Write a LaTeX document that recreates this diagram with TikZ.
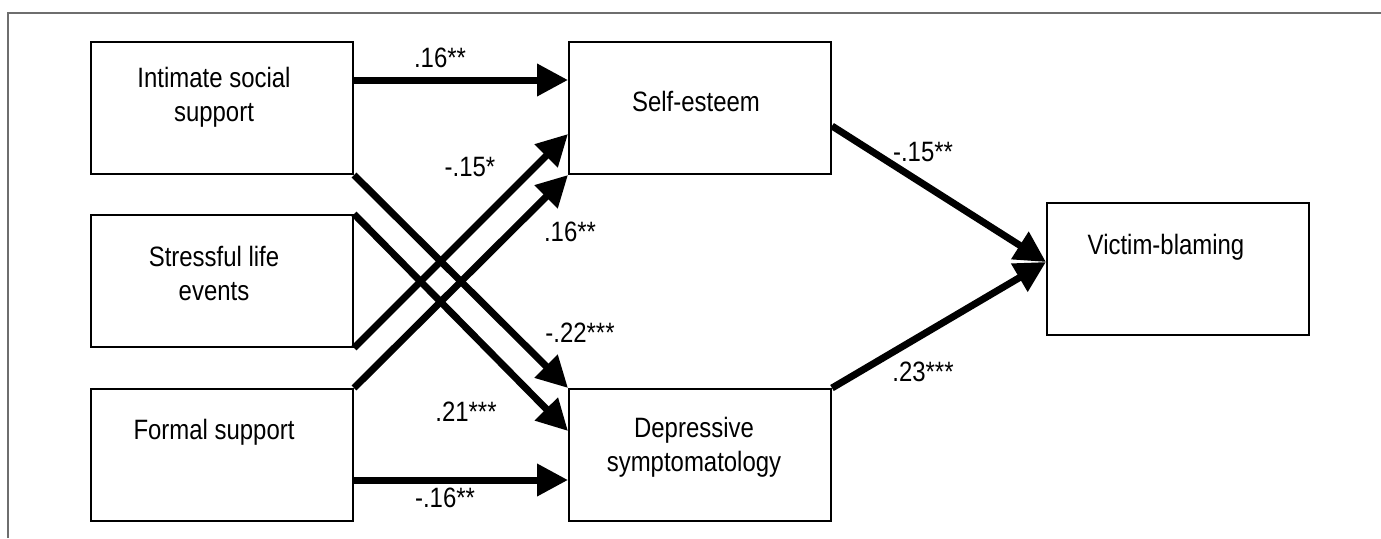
\documentclass[tikz,border=0pt]{standalone}
\usepackage{fontspec}
\setmainfont{Liberation Sans}[FakeStretch=0.855]
\usepackage{tikz}
\usetikzlibrary{arrows.meta,calc}
\definecolor{FrameGray}{HTML}{6E6E6E}

\begin{document}
\begin{tikzpicture}[
  x=1pt, y=-1pt,
  every node/.style={font=\fontsize{28}{34}\selectfont},
  varbox/.style={draw=black, line width=2pt, minimum width=262pt, minimum height=132pt, inner sep=0pt},
  boxtext/.style={align=center, inner sep=0pt},
  pathline/.style={draw=black, line width=7pt, -{Triangle[length=31pt,width=31pt]}},
  coef/.style={inner sep=0pt},
  frameline/.style={draw=FrameGray, line width=1.5pt},
]
\useasboundingbox (0,0) rectangle (1381,538);

% ============ frame ============
\draw[frameline] (8,538) -- (8,13) -- (1381,13);

% ============ boxes ============
\node[varbox] (iss) at (222,108) {};
\node[varbox] (sle) at (222,281) {};
\node[varbox] (fs)  at (222,455) {};
\node[varbox] (se)  at (700,108) {};
\node[varbox] (dep) at (700,455) {};
\node[varbox] (vb)  at (1178,269) {};

\node[boxtext] (isstext) at (214,97)  {Intimate social\\support};
\node[boxtext] (sletext) at (214,273) {Stressful life\\events};
\node[boxtext] (fstext)  at (214,432) {Formal support};
\node[boxtext] (setext)  at (696,101) {Self-esteem};
\node[boxtext] (deptext) at (694,447) {Depressive\\symptomatology};
\node[boxtext] (vbtext)  at (1166,247) {Victim-blaming};

% ============ paths to self-esteem ============
\draw[pathline] ($(iss.north east)+(0,39)$) -- ($(se.north west)+(0,39)$);
\draw[pathline] (sle.south east) -- ($(se.south west)+(0,-41)$);
\draw[pathline] (fs.north east) -- (se.south west);

% ============ paths to depressive symptomatology ============
\draw[pathline] (iss.south east) -- (dep.north west);
\draw[pathline] (sle.north east) -- ($(dep.north west)+(0,43)$);
\draw[pathline] ($(fs.north east)+(0,92)$) -- ($(dep.north west)+(0,92)$);

% ============ paths to victim-blaming ============
\draw[pathline] ($(se.north east)+(0,85)$) -- ($(vb.west)+(0,-7)$);
\draw[pathline] (dep.north east) -- ($(vb.west)+(0,-7)$);

% coefficients
\node[coef] (c1) at (440,58)  {.16**};
\node[coef] (c2) at (470,167) {-.15*};
\node[coef] (c3) at (570,232) {.16**};
\node[coef] (c4) at (580,333) {-.22***};
\node[coef] (c5) at (466,412) {.21***};
\node[coef] (c6) at (445,498) {-.16**};
\node[coef] (c7) at (923,152) {-.15**};
\node[coef] (c8) at (923,372) {.23***};

\end{tikzpicture}
\end{document}
